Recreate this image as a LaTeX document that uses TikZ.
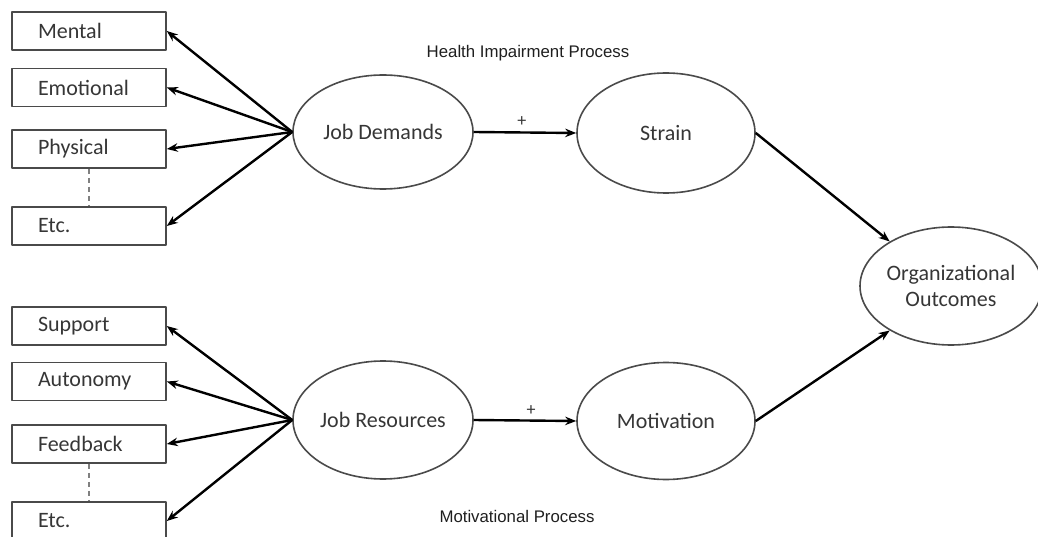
\documentclass[tikz,border=0pt]{standalone}
\usepackage{fontspec}
\setmainfont{Carlito}
\newfontfamily\procfont{Liberation Sans}
\usetikzlibrary{arrows.meta,shapes.geometric}
\definecolor{linegray}{HTML}{4A4A4A}
\definecolor{textgray}{HTML}{363636}
\tikzset{
  factor/.style={draw=linegray, line width=1.6pt, minimum height=38pt, text width=102pt,
    inner xsep=26pt, inner ysep=0pt, align=left, text=textgray, font=\fontsize{22}{26}\selectfont},
  latent/.style={ellipse, draw=linegray, line width=1.6pt, inner sep=0pt, align=center,
    text=textgray, font=\fontsize{22}{26}\selectfont},
  effect/.style={-{Stealth[length=11pt,width=8.5pt]}, line width=2.4pt, black},
  etcline/.style={dashed, dash pattern=on 5pt off 4pt, line width=1.4pt, gray},
  proc/.style={font=\procfont\fontsize{16.8}{20}\selectfont, text=black!88},
  sign/.style={above=1pt, text=textgray, font=\fontsize{18}{20}\selectfont}
}
\begin{document}
\begin{tikzpicture}[x=1pt,y=-1pt,line join=round]
\useasboundingbox (0,0) rectangle (1038,537);
% job characteristics
\foreach \n/\y/\t in {mental/31/Mental,emotional/87.5/Emotional,physical/149/Physical,etcA/226/Etc.,
  support/326/Support,autonomy/381.5/Autonomy,feedback/444/Feedback,etcB/521/Etc.}
  {\node[factor] (\n) at (89,\y) {\t};}
\draw[etcline] (physical.south) -- (etcA.north);
\draw[etcline] (feedback.south) -- (etcB.north);
% latent constructs
\node[latent, minimum width=180pt, minimum height=114pt] (jd) at (383,132) {Job Demands};
\node[latent, minimum width=178pt, minimum height=120pt] (strain) at (666,133) {Strain};
\node[latent, minimum width=180pt, minimum height=118pt] (jr) at (383,420) {Job Resources};
\node[latent, minimum width=178pt, minimum height=117pt] (motiv) at (666,421) {Motivation};
\node[latent, minimum width=172pt, minimum height=118pt] (oo) at (951,286) {Organizational\\Outcomes};
% process labels
\node[proc] (hip) at (528,53) {Health Impairment Process};
\node[proc] (mp) at (517,516) {Motivational Process};
% paths
\foreach \n in {mental,emotional,physical,etcA}{\draw[effect] (jd.west) -- (\n.east);}
\foreach \n in {support,autonomy,feedback,etcB}{\draw[effect] (jr.west) -- (\n.east);}
\draw[effect] (jd.east) -- node[pos=0.47, sign] (plusA) {+} (strain.west);
\draw[effect] (jr.east) -- node[pos=0.56, sign] (plusB) {+} (motiv.west);
\draw[effect] (strain.east) -- (oo.144);
\draw[effect] (motiv.east) -- (oo.216);
\end{tikzpicture}
\end{document}
